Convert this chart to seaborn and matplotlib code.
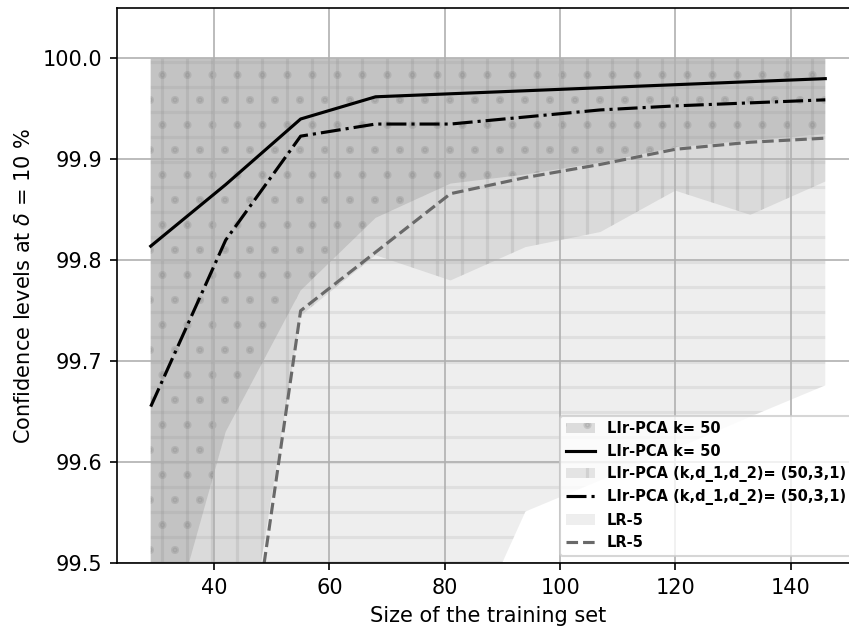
import numpy as np
import pandas as pd
import matplotlib
matplotlib.use("Agg")
import matplotlib.pyplot as plt
import seaborn as sns
from matplotlib.ticker import FormatStrFormatter

# ---- data ----
train_size = [29, 42, 55, 68, 81, 94, 107, 120, 133, 146]

llr_k50 = [99.814, 99.875, 99.940, 99.962, 99.965, 99.968, 99.971, 99.974, 99.977, 99.980]
llr_k50_low = [99.365, 99.630, 99.770, 99.842, 99.876, 99.885, 99.897, 99.912, 99.919, 99.925]
llr_k50_high = [100.0, 100.0, 100.0, 100.0, 100.0, 100.0, 100.0, 100.0, 100.0, 100.0]

llr_kd = [99.655, 99.820, 99.923, 99.935, 99.935, 99.942, 99.949, 99.953, 99.956, 99.959]
llr_kd_low = [99.10, 99.283, 99.745, 99.805, 99.780, 99.813, 99.828, 99.869, 99.845, 99.878]
llr_kd_high = [100.0, 100.0, 100.0, 100.0, 100.0, 100.0, 100.0, 100.0, 100.0, 100.0]

lr5 = [99.00, 99.236, 99.750, 99.808, 99.866, 99.882, 99.895, 99.910, 99.917, 99.921]
lr5_low = [99.00, 99.10, 99.20, 99.30, 99.387, 99.551, 99.582, 99.613, 99.645, 99.676]
lr5_high = [100.0, 100.0, 100.0, 100.0, 100.0, 100.0, 100.0, 100.0, 100.0, 100.0]

lab_k50 = "LIr-PCA k= 50"
lab_kd = "LIr-PCA (k,d_1,d_2)= (50,3,1)"
lab_lr = "LR-5"

plt.rcParams["hatch.linewidth"] = 1.5

fig = plt.figure(figsize=(849 / 150, 628 / 150), dpi=150)
ax = fig.add_axes([117 / 849, 1 - 563 / 628, (859 - 117) / 849, (563 - 8) / 628])

df = pd.DataFrame({"x": train_size, "k50": llr_k50, "kd": llr_kd, "lr5": lr5})

ax.fill_between(train_size, llr_k50_low, llr_k50_high, color="gray", alpha=0.25,
                hatch=".", linewidth=0, label=lab_k50)
sns.lineplot(data=df, x="x", y="k50", ax=ax, color="black", linestyle="-",
             linewidth=1.5, label=lab_k50)
ax.fill_between(train_size, llr_kd_low, llr_kd_high, color="gray", alpha=0.18,
                hatch="|", linewidth=0, label=lab_kd)
sns.lineplot(data=df, x="x", y="kd", ax=ax, color="black", linestyle="-.",
             linewidth=1.5, label=lab_kd)
ax.fill_between(train_size, lr5_low, lr5_high, color="gray", alpha=0.13,
                hatch="-", linewidth=0, label=lab_lr)
sns.lineplot(data=df, x="x", y="lr5", ax=ax, color="dimgray", linestyle="--",
             linewidth=1.5, label=lab_lr)

ax.set_xlim(23.15, 151.85)
ax.set_ylim(99.5, 100.05)
ax.yaxis.set_major_formatter(FormatStrFormatter("%.1f"))
ax.grid(True)
ax.set_xlabel("Size of the training set")
ax.set_ylabel(r"Confidence levels at $\delta$ = 10 %")

ax.legend(loc="lower right", prop={"weight": "bold", "size": 7})

fig.savefig("out.png", dpi=150)
